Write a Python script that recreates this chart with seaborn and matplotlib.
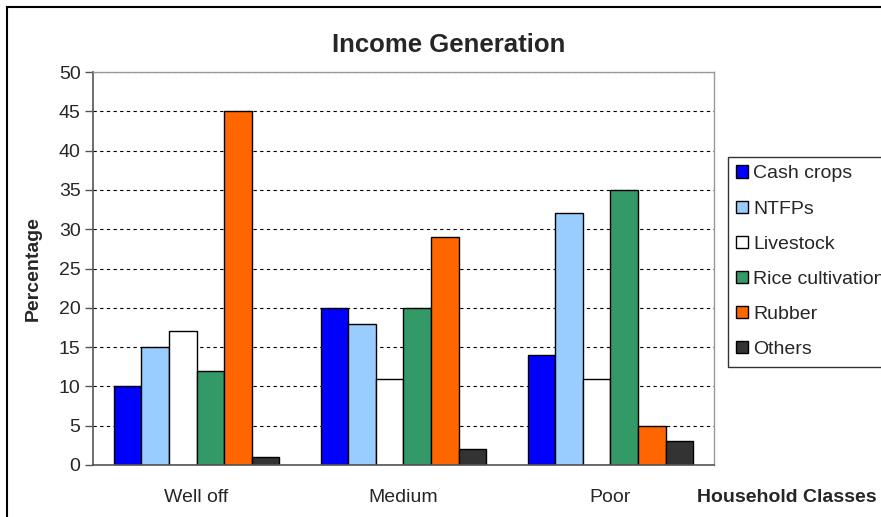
import pandas as pd
import seaborn as sns
import matplotlib.pyplot as plt
from matplotlib.patches import Rectangle

# data
classes = ["Well off", "Medium", "Poor"]
sources = ["Cash crops", "NTFPs", "Livestock", "Rice cultivation", "Rubber", "Others"]
cash_crops = [10, 20, 14]
ntfps = [15, 18, 32]
livestock = [17, 11, 11]
rice = [12, 20, 35]
rubber = [45, 29, 5]
others = [1, 2, 3]

colors = ["#0000FF", "#99CCFF", "#FFFFFF", "#339966", "#FF6600", "#333333"]

rows = []
for src, vals in zip(sources, [cash_crops, ntfps, livestock, rice, rubber, others]):
    for cls, v in zip(classes, vals):
        rows.append({"Class": cls, "Source": src, "Percentage": v})
df = pd.DataFrame(rows)

sns.set_style("white")
plt.rcParams["font.family"] = ["Liberation Sans", "DejaVu Sans"]

fig = plt.figure(figsize=(8.81, 5.17), dpi=100)
ax = fig.add_axes([0.1056, 0.1006, 0.7048, 0.7601])

sns.barplot(data=df, x="Class", y="Percentage", hue="Source", order=classes,
            hue_order=sources, palette=colors, width=0.8, saturation=1,
            edgecolor="black", linewidth=1, ax=ax, legend=True)

ax.set_ylim(0, 50)
ax.set_yticks(range(0, 51, 5))
ax.set_xlim(-0.5, 2.5)
ax.set_xticks([-0.5, 0.5, 1.5, 2.5])
ax.set_xticklabels([])
ax.set_xticks([0, 1, 2], minor=True)
ax.set_xticklabels(classes, minor=True)
ax.tick_params(axis="x", which="major", length=6, width=1, color="#555555")
ax.tick_params(axis="x", which="minor", length=0, pad=17, labelsize=14)
ax.tick_params(axis="y", length=6, width=1, color="#555555", labelsize=14, left=True, pad=3)

ax.set_axisbelow(True)
ax.yaxis.grid(True, linestyle=(0, (3, 3)), color="black", linewidth=0.8)
for side in ["left", "bottom"]:
    ax.spines[side].set_color("#555555")
    ax.spines[side].set_linewidth(1.2)
for side in ["top", "right"]:
    ax.spines[side].set_visible(True)
    ax.spines[side].set_color("#999999")
    ax.spines[side].set_linewidth(1)

ax.set_xlabel("")
ax.set_ylabel("Percentage", fontsize=14, fontweight="bold", labelpad=12)

handles, labels = ax.get_legend_handles_labels()
ax.legend_.remove()
leg = fig.legend(handles, labels, loc="upper left", bbox_to_anchor=(0.826, 0.697),
                 fontsize=14, frameon=True, fancybox=False, edgecolor="black",
                 handlelength=0.6, handleheight=0.6, handletextpad=0.25,
                 labelspacing=0.93, borderpad=0.45, borderaxespad=0)
leg.get_frame().set_linewidth(1)

fig.text(0.509, 0.913, "Income Generation", ha="center", va="center",
         fontsize=18.5, fontweight="bold")
fig.text(0.893, 0.038, "Household Classes", ha="center", va="center",
         fontsize=14, fontweight="bold")

# outer border of the original picture
fig.patches.append(Rectangle((0.008, -0.1), 1.2, 0.1 + 0.986, transform=fig.transFigure,
                             fill=False, edgecolor="black", linewidth=1.5))

fig.savefig("out.png", dpi=100)
